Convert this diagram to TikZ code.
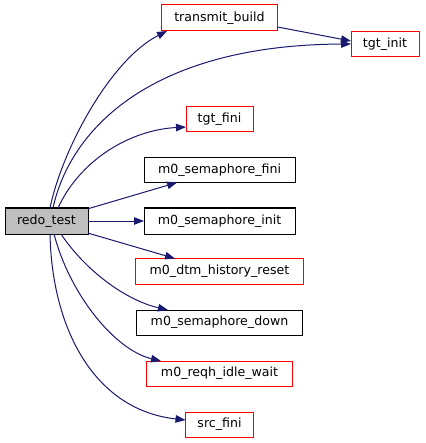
\documentclass[tikz,border=0pt]{standalone}
\usepackage{fontspec}
\setmainfont{DejaVu Sans}
\usetikzlibrary{arrows.meta}
\definecolor{edgecol}{HTML}{191970}
\definecolor{redbox}{HTML}{FF0000}
\definecolor{rootfill}{HTML}{BFBFBF}
\tikzset{
  fn/.style={draw=black, line width=1pt, fill=white, inner sep=0pt, outer sep=0pt,
    font=\fontsize{12.6}{15}\selectfont},
  fnred/.style={fn, draw=redbox},
  root/.style={fn, fill=rootfill},
  edge/.style={draw=edgecol, line width=1pt, -{Triangle[length=10pt,width=7.5pt]}},
}
\begin{document}
\begin{tikzpicture}[x=1pt,y=-1pt]
\useasboundingbox[fill=white] (0,0) rectangle (425,443);
\node[root,  minimum width=83pt,  minimum height=26pt] (redo) at (46.5,221) {redo\_test};
\node[fnred, minimum width=116pt, minimum height=26pt] (tb)   at (219.5,18) {transmit\_build};
\node[fnred, minimum width=68pt,  minimum height=25pt] (ti)   at (385,44) {tgt\_init};
\node[fnred, minimum width=67pt,  minimum height=25pt] (tf)   at (219.5,119.5) {tgt\_fini};
\node[fn,    minimum width=151pt, minimum height=25pt] (sf)   at (219.5,170) {m0\_semaphore\_fini};
\node[fn,    minimum width=151pt, minimum height=26pt] (si)   at (219.5,221) {m0\_semaphore\_init};
\node[fnred, minimum width=168pt, minimum height=26pt] (dhr)  at (219.5,271.5) {m0\_dtm\_history\_reset};
\node[fn,    minimum width=166pt, minimum height=25pt] (sd)   at (219.5,322.5) {m0\_semaphore\_down};
\node[fnred, minimum width=146pt, minimum height=25pt] (riw)  at (219.5,373.5) {m0\_reqh\_idle\_wait};
\node[fnred, minimum width=68pt,  minimum height=25pt] (sfini) at (219.5,424.5) {src\_fini};

\draw[edge] (redo.north -| 50,0) .. controls (62,150) and (110,60) .. (tb.south -| 167,0);
\draw[edge] (redo.north -| 53,0) .. controls (70,130) and (150,45) .. (ti.west);
\draw[edge] (tb.east |- 0,27) -- (ti.west |- 0,41);
\draw[edge] (redo.north -| 58,0) .. controls (80,160) and (130,130) .. (tf.west |- 0,127);
\draw[edge] (redo) -- (sf);
\draw[edge] (redo) -- (si);
\draw[edge] (redo) -- (dhr);
\draw[edge] (redo.south -| 61,0) .. controls (85,270) and (125,300) .. (sd.north -| 168,0);
\draw[edge] (redo.south -| 54,0) .. controls (70,295) and (115,350) .. (riw.north -| 161,0);
\draw[edge] (redo.south -| 50,0) .. controls (52,330) and (95,410) .. (sfini.west |- 0,420);
\end{tikzpicture}
\end{document}
